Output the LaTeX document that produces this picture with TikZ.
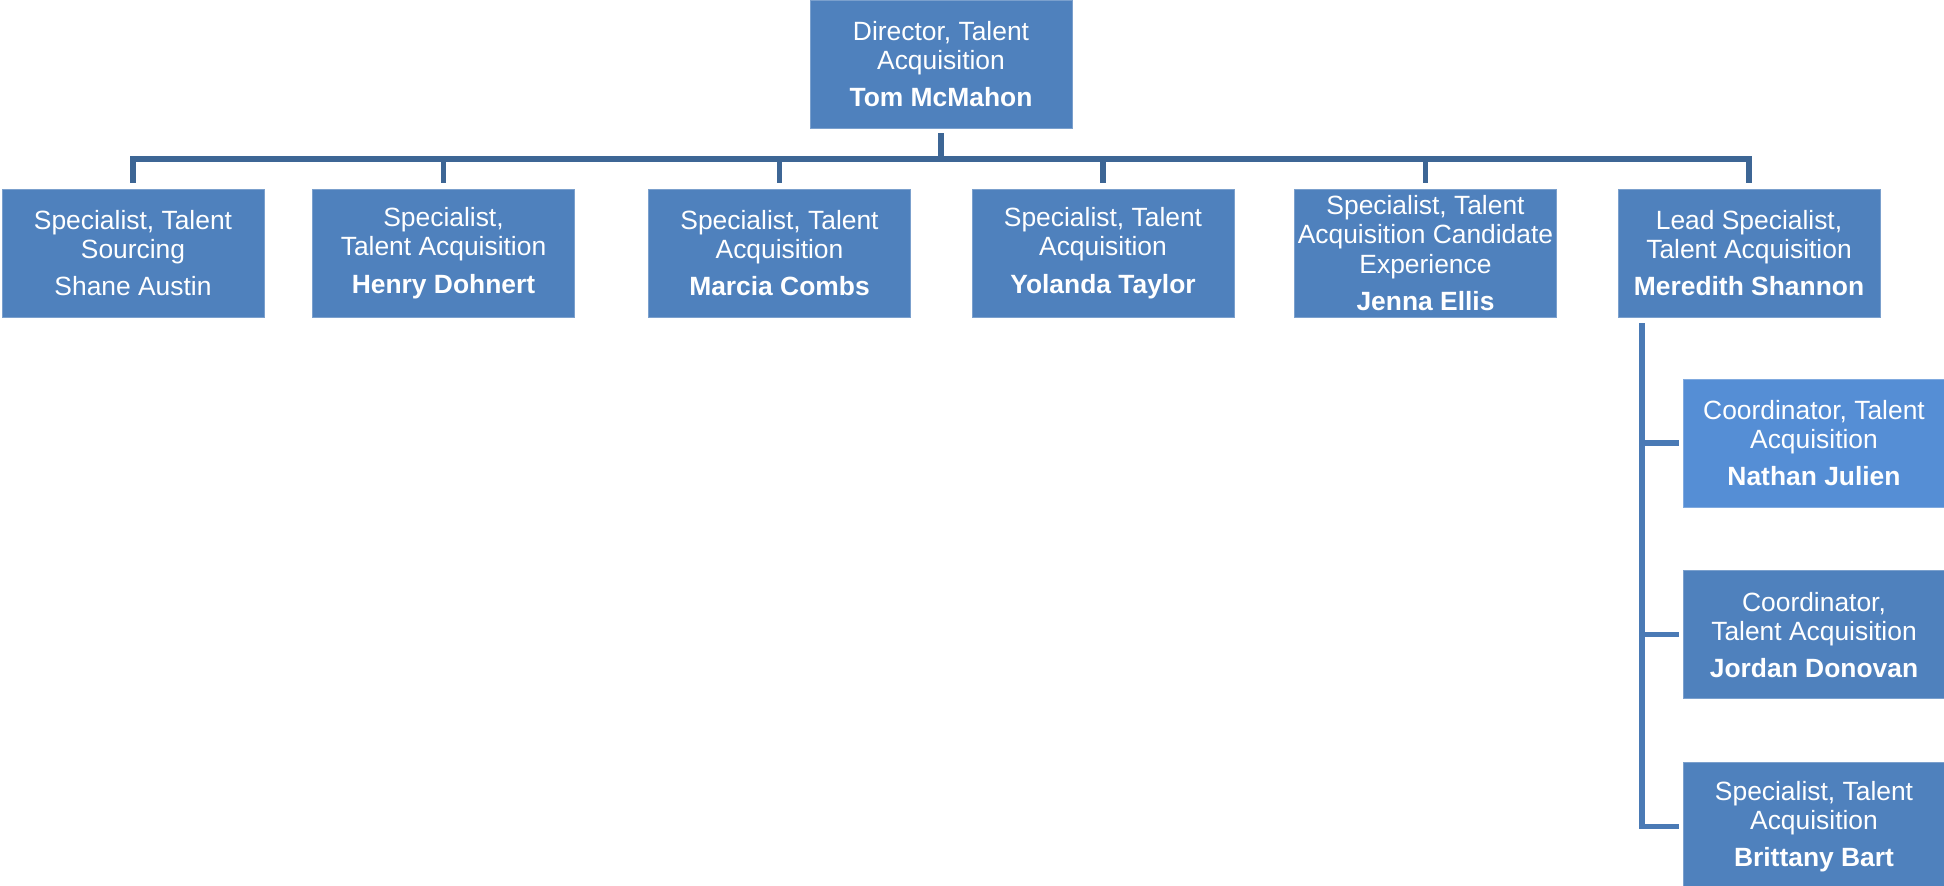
\documentclass[tikz,border=0pt]{standalone}
\usepackage{fontspec}
\setmainfont{Liberation Sans}
\usepackage{tikz}
\usetikzlibrary{positioning, calc}

\definecolor{boxblue}{HTML}{4F81BD}
\definecolor{lightblue}{HTML}{558ED5}
\definecolor{linedark}{HTML}{3D6695}
\definecolor{linemid}{HTML}{4A7AB5}

\begin{document}
\begin{tikzpicture}[
  x=0.5pt, y=-0.5pt,
  font=\fontsize{13.2}{14.6}\selectfont,
  staff/.style={draw=boxblue!75!white, line width=0.4pt, fill=boxblue, text=white, minimum width=131pt, minimum height=64pt, inner xsep=1pt, inner ysep=2pt, align=center},
  coord/.style={staff, fill=lightblue, draw=lightblue!75!white},
  link/.style={draw=linedark, line width=2.6pt},
  sublink/.style={draw=linemid, line width=2.6pt}
]
\useasboundingbox (0,0) rectangle (1944,886);

\node[staff] (dir) at (941,64) {Director, Talent\\Acquisition\\[4pt]\textbf{Tom McMahon}};

\node[staff] (shane) at (133,253) {Specialist, Talent\\Sourcing\\[4pt]Shane Austin};
\node[staff] (henry) at (443.5,253) {Specialist,\\Talent Acquisition\\[4pt]\textbf{Henry Dohnert}};
\node[staff] (marcia) at (779.5,253) {Specialist, Talent\\Acquisition\\[4pt]\textbf{Marcia Combs}};
\node[staff] (yolanda) at (1103,253) {Specialist, Talent\\Acquisition\\[4pt]\textbf{Yolanda Taylor}};
\node[staff] (jenna) at (1425.5,253) {Specialist, Talent\\Acquisition Candidate\\Experience\\[4pt]\textbf{Jenna Ellis}};
\node[staff] (meredith) at (1749,253) {Lead Specialist,\\Talent Acquisition\\[4pt]\textbf{Meredith Shannon}};

\node[coord] (nathan) at (1814,443) {Coordinator, Talent\\Acquisition\\[4pt]\textbf{Nathan Julien}};
\node[staff, below=31.5pt of nathan] (jordan) {Coordinator,\\Talent Acquisition\\[4pt]\textbf{Jordan Donovan}};
\node[staff, below=31.5pt of jordan] (brittany) {Specialist, Talent\\Acquisition\\[4pt]\textbf{Brittany Bart}};

\coordinate (bus) at (941,159);
\coordinate (spine) at (1642,0);

\draw[link, shorten <=2.5pt] (dir.south) -- (dir.south |- bus);
\draw[link, shorten <=3pt, shorten >=3pt] (shane.north) |- (bus) -| (meredith.north);
\foreach \n in {henry, marcia, yolanda, jenna}
  \draw[link, shorten >=3pt] (bus -| \n.north) -- (\n.north);

\draw[sublink, shorten <=3pt, shorten >=2pt] (meredith.south -| spine) |- (brittany.west);
\foreach \n in {nathan, jordan}
  \draw[sublink, shorten >=2pt] (\n.west -| spine) -- (\n.west);
\end{tikzpicture}
\end{document}
